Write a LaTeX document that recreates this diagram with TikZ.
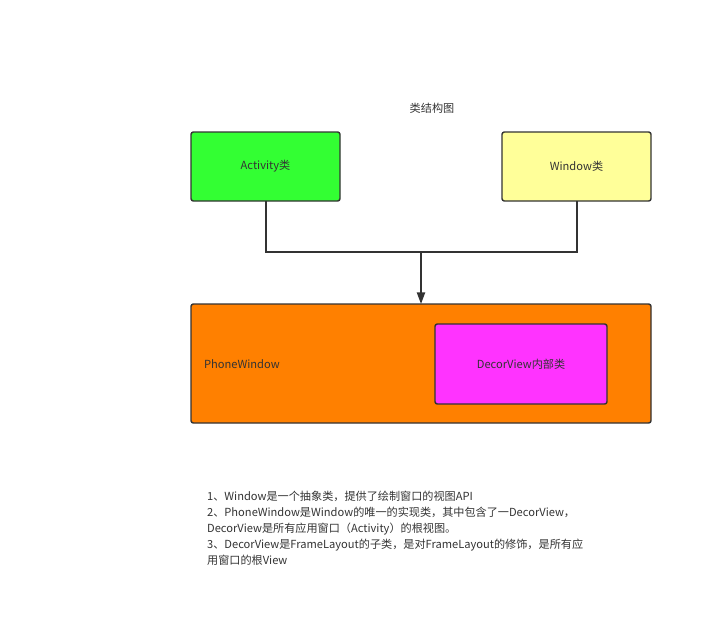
\documentclass[tikz,border=0pt]{standalone}
\usepackage{fontspec}
\setmainfont{Noto Sans CJK SC}
\usetikzlibrary{arrows.meta, positioning, calc}
\definecolor{edge}{HTML}{333333}
\definecolor{actgreen}{HTML}{33FF33}
\definecolor{winyellow}{HTML}{FFFF99}
\definecolor{phoneorange}{HTML}{FF8000}
\definecolor{decorpink}{HTML}{FF33FF}
\begin{document}
\begin{tikzpicture}[
  x=0.03cm, y=-0.03cm,
  block/.style = {draw=edge, line width=1.2pt, rounded corners=2pt, text=edge},
  wire/.style = {draw=edge, line width=1.5pt},
  arrow/.style = {wire, -{Triangle[width=7pt,length=10pt]}},
  every node/.style = {font=\fontsize{9.5}{12}\selectfont, text=edge}
]
  \useasboundingbox (0,0) rectangle (722,639);

  % Title
  \node (title) at (432,108) {类结构图};

  % Classes
  \draw[block, fill=actgreen] (191,132) rectangle (340,201);
  \node (activity) at (265.5,166.5) {Activity类};
  \draw[block, fill=winyellow] (502,132) rectangle (651,201);
  \node (window) at (576.5,166.5) {Window类};

  % PhoneWindow with DecorView inside
  \draw[block, fill=phoneorange] (191,304) rectangle (651,423);
  \node[anchor=west] (phone) at (200,364) {PhoneWindow};
  \draw[block, fill=decorpink] (435,324) rectangle (607,404);
  \node (decor) at (521,364) {DecorView内部类};

  % Connectors
  \coordinate (actbot) at (266,201);
  \coordinate (winbot) at (577,201);
  \coordinate (join) at (421,252);
  \coordinate (phonetop) at (421,304);
  \draw[wire] (actbot) |- (join);
  \draw[wire] (winbot) |- (join);
  \draw[arrow] (join) -- (phonetop);

  % Notes
  \node[anchor=north west, align=left, font=\fontsize{9.5}{13.6}\selectfont] (notes) at (203,487) {%
    1、Window是一个抽象类，提供了绘制窗口的视图API\\
    2、PhoneWindow是Window的唯一的实现类，其中包含了一DecorView，\\
    DecorView是所有应用窗口（Activity）的根视图。\\
    3、DecorView是FrameLayout的子类，是对FrameLayout的修饰，是所有应\\
    用窗口的根View};
\end{tikzpicture}
\end{document}
